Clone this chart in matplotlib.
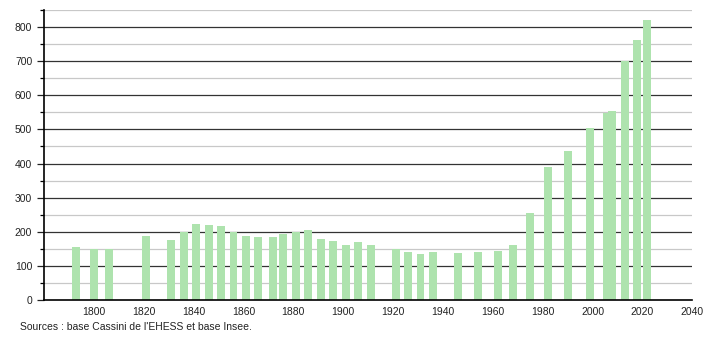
import matplotlib
matplotlib.use("Agg")
import matplotlib.pyplot as plt
from matplotlib.ticker import MultipleLocator

years = [1793, 1800, 1806, 1821, 1831, 1836, 1841, 1846, 1851, 1856,
         1861, 1866, 1872, 1876, 1881, 1886, 1891, 1896, 1901, 1906,
         1911, 1921, 1926, 1931, 1936, 1946, 1954, 1962, 1968, 1975,
         1982, 1990, 1999, 2006, 2008, 2013, 2018, 2022]
population = [156, 149, 149, 187, 176, 200, 223, 220, 217, 200,
              188, 186, 186, 194, 199, 204, 179, 173, 162, 171,
              162, 149, 142, 135, 141, 139, 142, 145, 161, 256,
              391, 438, 505, 549, 555, 701, 762, 820]
x_ticks = [1800, 1820, 1840, 1860, 1880, 1900, 1920, 1940, 1960, 1980, 2000, 2020, 2040]
source = "Sources : base Cassini de l'EHESS et base Insee."

plt.rcParams['font.family'] = ['Liberation Sans', 'DejaVu Sans']

fig = plt.figure(figsize=(7.1, 3.4), dpi=100)
ax = fig.add_axes([0.062, 0.1176, 0.913, 0.853])

# grid: light every 50, dark every 100
for v in range(50, 851, 100):
    ax.axhline(v, color='#c8c8c8', lw=0.9, zorder=0)
for v in range(100, 801, 100):
    ax.axhline(v, color='#333333', lw=0.9, zorder=0)

ax.bar(years, population, width=3.2, color='#aee3ae', zorder=2)

ax.set_xlim(1780, 2040)
ax.set_ylim(0, 850)
ax.set_xticks(x_ticks)
ax.yaxis.set_major_locator(MultipleLocator(100))
ax.yaxis.set_minor_locator(MultipleLocator(50))
ax.tick_params(axis='x', length=0, labelsize=7.5, pad=5, colors='#222222')
ax.tick_params(axis='y', which='major', length=5, width=0.9, labelsize=7.5, colors='#222222')
ax.tick_params(axis='y', which='minor', length=3, width=0.9)
for s in ['top', 'right']:
    ax.spines[s].set_visible(False)
for s in ['left', 'bottom']:
    ax.spines[s].set_color('black')
    ax.spines[s].set_linewidth(1.2)

fig.text(20 / 710, 1 - 327 / 340, source, fontsize=7.5, color='#222222', va='center')

fig.savefig("out.png", dpi=100)
